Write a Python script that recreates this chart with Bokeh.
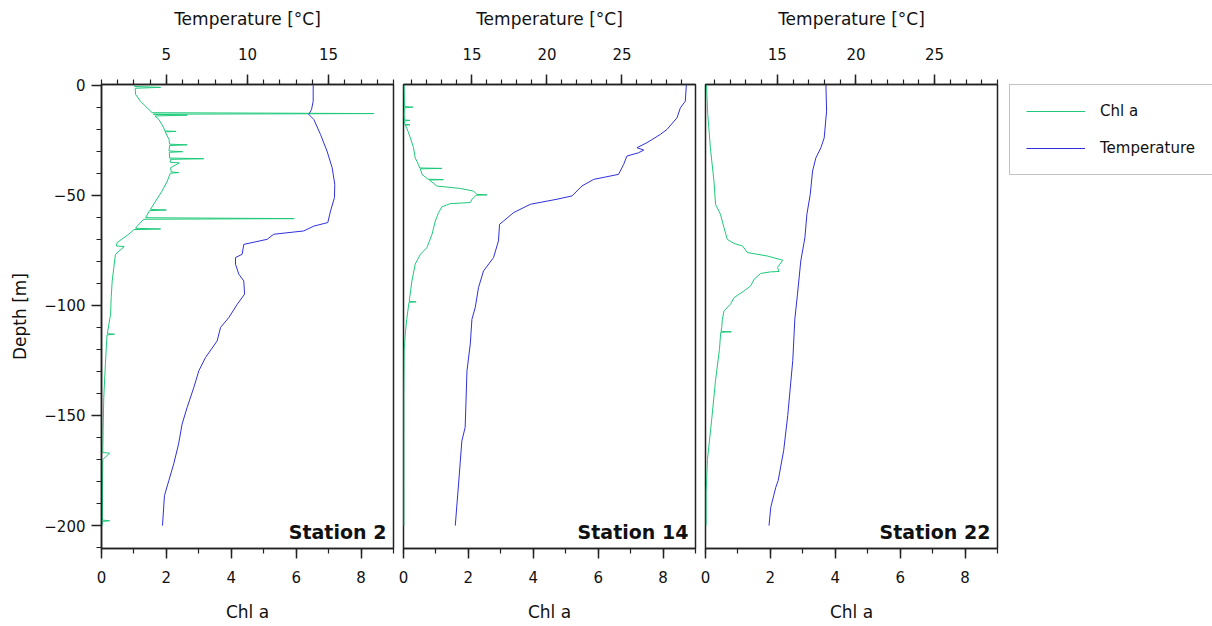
from bokeh.plotting import figure
from bokeh.models import Range1d, LinearAxis, SingleIntervalTicker, Legend, LegendItem, Label
from bokeh.layouts import row
from bokeh.embed import file_html
from bokeh.resources import INLINE

# ---------------- data ----------------
stations = ["Station 2", "Station 14", "Station 22"]

st2_chl_depth = [0, -0.6, -1.0, -1.4, -4.2, -7.3, -10.3, -12.5, -12.9, -13.2, -13.6, -14.0, -15.6, -19.4, -20.8, -21.0, -21.2,
                 -24.6, -26.8, -27.1, -27.4, -29.9, -30.2, -30.5, -33.1, -33.4, -33.7, -35.0, -35.3, -37.5, -39.4, -39.7, -40.0,
                 -43.5, -48.0, -52.6, -56.4, -56.7, -57.0, -60.2, -60.6, -60.9, -64.0, -65.0, -65.3, -65.6, -67.7, -71.5,
                 -73.0, -73.3, -76.8, -82.8, -88.9, -96.0, -104.0, -112.8, -113.1, -113.4, -126.7, -141.8, -157.0,
                 -166.8, -167.1, -170.0, -185.0, -197.5, -197.8, -198.1, -200.0]
st2_chl = [1.00, 1.02, 1.82, 1.04, 1.05, 1.20, 1.41, 1.56, 8.40, 1.60, 2.64, 1.65, 1.77, 1.92, 1.95, 2.30, 1.96,
           2.08, 2.10, 2.64, 2.10, 2.08, 2.50, 2.09, 2.10, 3.15, 2.12, 2.12, 2.40, 2.13, 2.15, 2.38, 2.12,
           2.03, 1.87, 1.67, 1.51, 2.00, 1.48, 1.36, 5.94, 1.30, 1.10, 1.05, 1.82, 1.00, 0.84, 0.48,
           0.46, 0.70, 0.43, 0.38, 0.33, 0.30, 0.28, 0.18, 0.40, 0.17, 0.12, 0.07, 0.05,
           0.04, 0.25, 0.04, 0.03, 0.03, 0.25, 0.03, 0.02]

st2_temp_depth = [0, -7.3, -11.0, -13.3, -15.6, -22.4, -29.9, -37.5, -45.0, -51.1, -57.1, -62.4, -64.0, -66.2, -67.7,
                  -70.0, -72.3, -76.8, -78.3, -81.3, -85.9, -88.9, -94.9, -99.5, -105.5, -110.0, -116.1, -123.7,
                  -129.7, -137.3, -146.3, -153.9, -163.0, -172.0, -179.6, -186.4, -200.0]
st2_temp = [14.05, 14.05, 13.95, 13.78, 14.09, 14.50, 14.90, 15.22, 15.38, 15.36, 15.12, 14.95, 14.09, 13.47, 11.62,
            11.21, 9.77, 9.67, 9.26, 9.26, 9.47, 9.77, 9.82, 9.37, 8.85, 8.34, 8.13, 7.41,
            7.00, 6.69, 6.28, 5.97, 5.75, 5.45, 5.15, 4.88, 4.76]

st14_chl_depth = [0, -9.7, -10.0, -10.3, -13.3, -15.8, -16.0, -16.2, -17.8, -18.0, -18.2, -19.4, -23.9, -28.4, -33.0,
                  -36.0, -37.6, -37.8, -38.0, -40.5, -42.7, -42.9, -43.1, -45.8, -46.9, -48.1, -49.6, -49.8, -50.0,
                  -51.8, -53.3, -53.8, -55.3, -57.9, -61.7, -67.7, -73.8, -76.8, -81.3, -88.9, -96.5, -98.2, -98.4,
                  -98.6, -106.3, -112.0, -120.6, -140.0, -160.0, -180.0, -200.0]
st14_chl = [0.02, 0.03, 0.29, 0.03, 0.02, 0.03, 0.20, 0.03, 0.04, 0.20, 0.05, 0.10, 0.21, 0.31, 0.36,
            0.46, 0.50, 1.18, 0.52, 0.57, 0.75, 1.23, 0.80, 1.03, 1.75, 2.16, 2.26, 2.57, 2.24,
            2.11, 2.06, 1.44, 1.18, 1.08, 0.98, 0.88, 0.72, 0.52, 0.36, 0.26, 0.19, 0.18, 0.39,
            0.17, 0.10, 0.06, 0.02, 0.01, 0.01, 0.01, 0.01]

st14_temp_depth = [0, -7.3, -10.3, -14.8, -20.1, -22.4, -26.1, -28.4, -29.5, -30.7, -32.2, -36.0, -40.5, -42.8, -45.8,
                   -50.3, -51.8, -54.1, -57.9, -61.7, -63.2, -70.7, -78.3, -84.4, -91.9, -101.0, -106.3, -117.6,
                   -129.7, -155.4, -161.5, -181.1, -200.0]
st14_temp = [29.29, 29.22, 28.89, 28.67, 28.00, 27.55, 26.67, 26.00, 26.45, 26.10, 25.33, 25.11, 24.77, 23.11, 22.33,
             21.67, 20.67, 18.89, 17.77, 17.11, 16.84, 16.77, 16.44, 15.77, 15.44, 15.22, 15.00, 14.89,
             14.67, 14.55, 14.33, 14.11, 13.89]

st22_chl_depth = [0, -13.3, -28.4, -43.5, -54.1, -58.6, -64.7, -70.0, -71.9, -73.0, -76.0, -77.6, -79.5, -82.8, -84.6,
                  -84.8, -85.5, -88.1, -91.2, -93.4, -96.5, -99.5, -102.5, -106.3, -110.0, -111.8, -112.0, -112.2,
                  -120.0, -134.0, -152.0, -170.0, -185.0, -200.0]
st22_chl = [0.03, 0.07, 0.15, 0.26, 0.31, 0.46, 0.57, 0.67, 0.88, 1.14, 1.29, 1.91, 2.38, 2.22, 2.27,
            2.00, 1.70, 1.50, 1.39, 1.19, 0.88, 0.77, 0.57, 0.52, 0.50, 0.48, 0.80, 0.47,
            0.43, 0.31, 0.19, 0.06, 0.02, 0.02]

st22_temp_depth = [0, -11.8, -23.9, -28.4, -33.0, -39.0, -49.6, -58.6, -69.3, -79.8, -94.9, -106.3, -125.0, -150.0,
                   -166.0, -179.6, -182.6, -191.7, -200.0]
st22_temp = [18.09, 18.13, 17.98, 17.77, 17.45, 17.24, 17.09, 16.88, 16.75, 16.49, 16.28, 16.11, 15.98, 15.66,
             15.40, 15.05, 14.90, 14.58, 14.47]

temp_ranges = [(1.0, 19.0), (10.44, 29.9), (10.43, 29.0)]
legend_labels = ["Chl a", "Temperature"]

# ---------------- styling ----------------
FONT = "DejaVu Sans"
GREEN = "#1ec97a"
BLUE = "#3030dc"
AXC = "#222222"

panels = [
    (st2_chl_depth, st2_chl, st2_temp_depth, st2_temp),
    (st14_chl_depth, st14_chl, st14_temp_depth, st14_temp),
    (st22_chl_depth, st22_chl, st22_temp_depth, st22_temp),
]
borders = [(101, 5), (5, 5), (5, 5)]

def style_axis(ax, label):
    ax.axis_label = label
    ax.axis_label_text_font = FONT
    ax.axis_label_text_font_size = "17px"
    ax.axis_label_text_font_style = "normal"
    ax.axis_label_text_color = "#111111"
    ax.major_label_text_font = FONT
    ax.major_label_text_font_size = "15px"
    ax.major_label_text_color = "#111111"
    ax.axis_line_color = AXC
    ax.axis_line_width = 1.5
    ax.major_tick_line_color = AXC
    ax.minor_tick_line_color = AXC
    ax.major_tick_line_width = 1.5
    ax.minor_tick_line_width = 1.2
    ax.major_tick_in = 0
    ax.major_tick_out = 10
    ax.minor_tick_in = 0
    ax.minor_tick_out = 5

figs = []
for i, (cd, cv, td, tv) in enumerate(panels):
    left, right = borders[i]
    p = figure(width=left + 292 + right, height=626,
               x_range=Range1d(0, 9.0), y_range=Range1d(-210.4, 0.3),
               output_backend="svg", toolbar_location=None,
               y_axis_location="left" if i == 0 else None,
               min_border_left=left, min_border_right=right,
               min_border_top=84, min_border_bottom=78)
    p.extra_x_ranges = {"temp": Range1d(*temp_ranges[i])}
    p.grid.visible = False
    p.outline_line_color = AXC
    p.outline_line_width = 1.5
    p.background_fill_color = "white"
    p.border_fill_color = "white"

    # bottom axis (Chl a)
    bx = p.xaxis[0]
    bx.ticker = SingleIntervalTicker(interval=2, num_minor_ticks=2)
    style_axis(bx, "Chl a")
    bx.major_label_standoff = 12
    bx.axis_label_standoff = 16

    # top axis (Temperature)
    tx = LinearAxis(x_range_name="temp", ticker=SingleIntervalTicker(interval=5, num_minor_ticks=5))
    style_axis(tx, "Temperature [°C]")
    tx.major_label_standoff = 15
    tx.axis_label_standoff = 16
    p.add_layout(tx, "above")

    if i == 0:
        ly = p.yaxis[0]
        ly.ticker = SingleIntervalTicker(interval=50, num_minor_ticks=5)
        style_axis(ly, "Depth [m]")
        ly.major_label_standoff = 6
        ly.axis_label_standoff = 11

    p.line(cv, cd, line_color=GREEN, line_width=1)
    p.line(tv, td, line_color=BLUE, line_width=1, x_range_name="temp")

    p.add_layout(Label(x=8.78, y=-203, text=stations[i], text_align="right", text_baseline="middle",
                       text_font=FONT, text_font_size="19px", text_font_style="bold", text_color="#111111"))
    figs.append(p)

# legend panel: a frame-only figure; its lines lie outside the visible range and only feed the legend
lg = figure(width=210, height=626, x_range=Range1d(0, 9.0), y_range=Range1d(1000, 1001),
            output_backend="svg", toolbar_location=None,
            x_axis_location=None, y_axis_location=None,
            min_border_left=0, min_border_right=0, min_border_top=84, min_border_bottom=78)
lg.grid.visible = False
lg.outline_line_color = None
lg.border_fill_color = "white"
lc = lg.line(st22_chl, st22_chl_depth, line_color=GREEN, line_width=1)
lt = lg.line(st22_temp, st22_temp_depth, line_color=BLUE, line_width=1)

legend = Legend(items=[LegendItem(label=legend_labels[0], renderers=[lc]),
                       LegendItem(label=legend_labels[1], renderers=[lt])],
                location=(7, 373), orientation="vertical",
                label_text_font=FONT, label_text_font_size="15px", label_text_color="#111111",
                glyph_width=59, glyph_height=20, label_standoff=15, padding=16, spacing=17,
                label_width=100, border_line_color="#888888", border_line_width=1,
                background_fill_alpha=1.0, margin=0)
lg.add_layout(legend)
figs.append(lg)

layout = row(*figs, spacing=0)
open("out.html", "w").write(file_html(layout, INLINE))
